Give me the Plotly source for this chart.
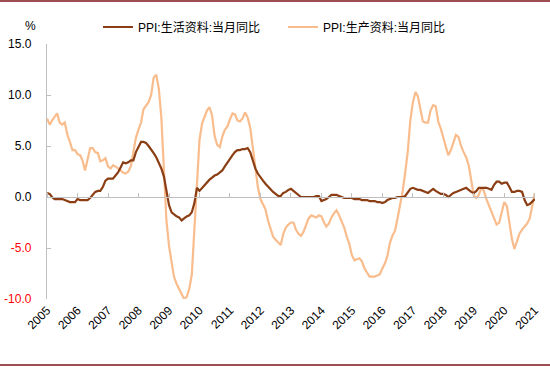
import pandas as pd
import plotly.graph_objects as go

months = pd.date_range("2005-01-01", "2021-01-01", freq="MS")

# PPI:生活资料:当月同比 (monthly, 2005-01 .. 2021-01)
consumer = [
    0.4, 0.3, 0.0, -0.2, -0.2, -0.2, -0.2, -0.3, -0.4, -0.5, -0.5, -0.5,   # 2005
    -0.2, -0.3, -0.3, -0.3, -0.3, -0.1, 0.2, 0.5, 0.6, 0.6, 1.0, 1.6,      # 2006
    1.8, 1.8, 1.8, 2.1, 2.4, 2.9, 3.4, 3.3, 3.4, 3.6, 3.6, 4.4,            # 2007
    4.9, 5.4, 5.4, 5.3, 5.0, 4.7, 4.3, 3.9, 3.4, 2.8, 2.0, 0.6,            # 2008
    -0.8, -1.5, -1.7, -1.9, -2.0, -2.3, -2.1, -1.9, -1.8, -1.5, -0.6, 0.9, # 2009
    0.6, 0.9, 1.1, 1.4, 1.7, 1.9, 2.1, 2.2, 2.4, 2.6, 3.0, 3.4,            # 2010
    3.8, 4.1, 4.4, 4.6, 4.6, 4.7, 4.7, 4.8, 4.4, 3.6, 2.8, 2.3,            # 2011
    2.0, 1.6, 1.3, 1.0, 0.8, 0.5, 0.3, 0.1, 0.1, 0.4, 0.5, 0.7,            # 2012
    0.8, 0.6, 0.4, 0.2, 0.0, 0.0, 0.0, 0.0, 0.0, 0.0, 0.1, 0.1,            # 2013
    -0.4, -0.3, -0.2, 0.0, 0.2, 0.2, 0.2, 0.1, 0.0, -0.1, -0.1, -0.1,      # 2014
    -0.1, -0.2, -0.2, -0.2, -0.3, -0.3, -0.3, -0.4, -0.4, -0.4, -0.5, -0.5, # 2015
    -0.6, -0.5, -0.3, -0.2, -0.1, -0.1, 0.0, 0.0, 0.0, 0.1, 0.4, 0.8,      # 2016
    0.9, 0.8, 0.7, 0.7, 0.6, 0.5, 0.4, 0.6, 0.8, 0.6, 0.4, 0.3,            # 2017
    0.3, 0.2, 0.0, 0.2, 0.4, 0.5, 0.6, 0.7, 0.8, 0.9, 0.7, 0.5,            # 2018
    0.4, 0.6, 0.9, 0.9, 0.9, 0.9, 0.8, 0.7, 1.2, 1.5, 1.5, 1.3,            # 2019
    1.4, 1.4, 1.0, 0.5, 0.5, 0.6, 0.6, 0.5, -0.3, -0.8, -0.7, -0.5,        # 2020
    -0.2,                                                                  # 2021
]

# PPI:生产资料:当月同比
producer = [
    7.7, 7.1, 7.5, 7.9, 8.2, 7.3, 7.1, 7.3, 6.1, 5.4, 4.6, 4.6,            # 2005
    4.2, 4.1, 3.6, 2.6, 3.8, 4.8, 4.8, 4.4, 4.3, 3.5, 3.6, 3.8,            # 2006
    3.0, 2.8, 3.1, 3.0, 2.8, 2.6, 2.4, 2.3, 2.5, 3.0, 4.6, 5.8,            # 2007
    6.6, 7.3, 8.6, 9.0, 9.3, 10.0, 11.7, 12.0, 10.6, 7.8, 1.8, -2.3,       # 2008
    -4.8, -6.5, -7.8, -8.5, -9.0, -9.6, -10.0, -9.8, -9.0, -7.6, -3.5, 1.5, # 2009
    5.6, 7.2, 7.9, 8.5, 8.8, 8.0, 6.0, 5.1, 4.9, 5.9, 6.6, 6.9,            # 2010
    7.6, 8.2, 8.1, 7.5, 7.4, 7.7, 8.3, 7.8, 6.8, 5.0, 3.3, 1.0,            # 2011
    -0.2, -0.7, -1.2, -2.3, -3.1, -3.9, -4.2, -4.5, -4.7, -3.6, -3.0, -2.7, # 2012
    -2.5, -2.5, -3.2, -3.6, -3.8, -3.4, -2.8, -2.1, -1.8, -1.9, -2.0, -1.8, # 2013
    -1.9, -2.5, -2.9, -2.6, -2.0, -1.6, -1.3, -1.8, -2.4, -3.0, -3.9, -4.6, # 2014
    -5.7, -6.2, -6.1, -6.0, -6.3, -7.0, -7.4, -7.8, -7.8, -7.8, -7.7, -7.6, # 2015
    -7.0, -6.5, -5.8, -4.5, -3.8, -3.3, -2.1, -0.8, 0.6, 2.4, 4.5, 7.5,    # 2016
    9.3, 10.3, 9.9, 8.6, 7.4, 7.3, 7.3, 8.5, 9.0, 8.9, 7.4, 6.7,           # 2017
    5.8, 4.7, 4.1, 4.6, 5.4, 6.1, 5.9, 5.0, 4.4, 3.9, 3.1, 1.5,            # 2018
    0.1, -0.1, 0.2, 0.9, 0.6, -0.2, -0.8, -1.5, -2.1, -2.7, -2.5, -1.4,    # 2019
    -0.5, -0.9, -2.4, -4.1, -5.1, -4.3, -3.6, -3.2, -2.9, -2.6, -2.1, -1.0, # 2020
    0.4,                                                                   # 2021
]

series_names = ["PPI:生活资料:当月同比", "PPI:生产资料:当月同比"]
series_colors = ["#8B3E14", "#F9BC8C"]

y_ticks = [15, 10, 5, 0, -5, -10]
year_ticks = list(range(2005, 2022))

W, H = 550, 368
L, R, T, B = 47, 15, 44, 69
PW, PH = W - L - R, H - T - B

ytext = [
    (f'<span style="color:#FF0000">{v:.1f}</span>' if v < 0 else f"{v:.1f}")
    for v in y_ticks
]

fig = go.Figure()
fig.add_trace(go.Scatter(
    x=months, y=producer, name=series_names[1], mode="lines",
    line=dict(color=series_colors[1], width=2.2), legendrank=2,
    xaxis="x", yaxis="y",
))
fig.add_trace(go.Scatter(
    x=months, y=consumer, name=series_names[0], mode="lines",
    line=dict(color=series_colors[0], width=2.2), legendrank=1,
    xaxis="x2", yaxis="y",
))

xr = [pd.Timestamp("2004-12-31"), pd.Timestamp("2021-01-03")]
tickdates = [pd.Timestamp(f"{y}-01-01") for y in year_ticks]

fig.update_layout(
    width=W, height=H,
    margin=dict(l=L, r=R, t=T, b=B, pad=0, autoexpand=False),
    paper_bgcolor="white", plot_bgcolor="white",
    font=dict(family="Liberation Sans, Arial, sans-serif", size=12, color="#000000"),
    showlegend=True,
    legend=dict(
        orientation="h", xref="paper", yref="paper",
        x=(98 - L) / PW, y=(H - B - 27) / PH, xanchor="left", yanchor="middle",
        font=dict(family="Liberation Sans, Noto Sans CJK SC, sans-serif", size=12),
        entrywidth=140, entrywidthmode="pixels",
        itemwidth=30, bgcolor="rgba(0,0,0,0)",
    ),
    xaxis=dict(
        type="date", range=xr, tickmode="array", tickvals=tickdates,
        ticktext=[str(y) for y in year_ticks], tickangle=-45,
        showline=False, showgrid=False, zeroline=False, ticks="",
        automargin=False, ticklabelstandoff=1,
        tickfont=dict(size=12),
    ),
    xaxis2=dict(
        type="date", range=xr, overlaying="x", anchor="free",
        position=(0 - (-10)) / 25, side="top",
        tickmode="array", tickvals=tickdates, showticklabels=False,
        showline=True, linecolor="#BFBFBF", linewidth=1.3,
        ticks="outside", ticklen=4, tickcolor="#BFBFBF", tickwidth=1,
        showgrid=False, zeroline=False, automargin=False,
    ),
    yaxis=dict(
        range=[-10, 15], tickmode="array", tickvals=y_ticks, ticktext=ytext,
        showline=True, linecolor="#BFBFBF", linewidth=1.3,
        ticks="inside", ticklen=4, tickcolor="#BFBFBF",
        showgrid=False, zeroline=False, ticklabelstandoff=12,
        automargin=False, tickfont=dict(size=12),
    ),
    shapes=[
        dict(type="line", xref="paper", yref="paper", x0=-L / PW, x1=(W - L) / PW,
             y0=(H - B - 1) / PH, y1=(H - B - 1) / PH,
             line=dict(color="#9E4E50", width=2)),
        dict(type="line", xref="paper", yref="paper", x0=-L / PW, x1=(W - L) / PW,
             y0=-(365 - (H - B)) / PH, y1=-(365 - (H - B)) / PH,
             line=dict(color="#9E4E50", width=2)),
    ],
    annotations=[
        dict(text="%", xref="paper", yref="paper", x=(30 - L) / PW, y=(H - B - 26) / PH,
             showarrow=False, xanchor="center", yanchor="middle", font=dict(size=12)),
    ],
)

fig.write_html(
    "out.html",
    config={"displayModeBar": False},
    post_script="document.body.style.margin='0';document.body.style.padding='0';",
)
